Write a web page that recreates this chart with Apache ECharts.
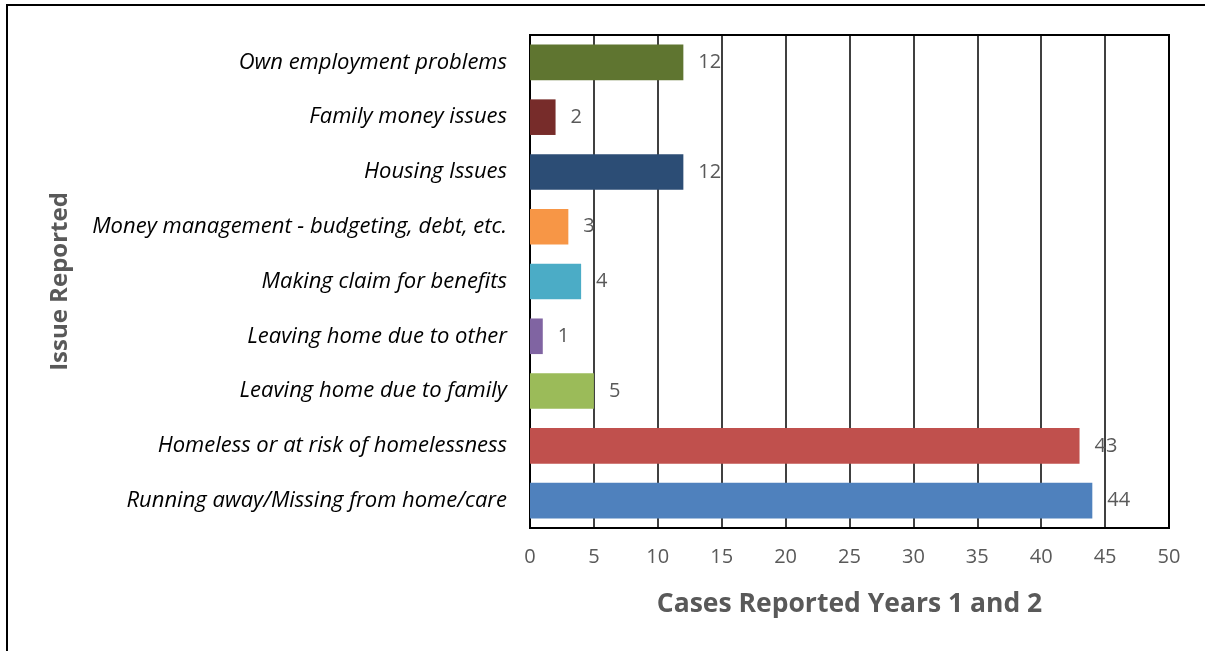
<!DOCTYPE html>
<html>
<head>
<meta charset="utf-8">
<script src="https://cdn.jsdelivr.net/npm/echarts@6/dist/echarts.min.js"></script>
<style>
  html, body { margin: 0; padding: 0; background: #fff; }
  #chart { width: 1205px; height: 651px; }
</style>
</head>
<body>
<div id="chart"></div>
<script>
// Issue categories, listed bottom to top
const categories = [
  'Running away/Missing from home/care',
  'Homeless or at risk of homelessness',
  'Leaving home due to family',
  'Leaving home due to other',
  'Making claim for benefits',
  'Money management - budgeting, debt, etc.',
  'Housing Issues',
  'Family money issues',
  'Own employment problems'
];
const cases = [44, 43, 5, 1, 4, 3, 12, 2, 12];
const barColors = [
  '#4F81BD', '#C0504D', '#9BBB59', '#8064A2', '#4BACC6',
  '#F79646', '#2C4D75', '#772C2A', '#5F7530'
];
const xTicks = [0, 5, 10, 15, 20, 25, 30, 35, 40, 45, 50];

const chart = echarts.init(document.getElementById('chart'), null, { renderer: 'canvas' });

const font = '"Open Sans", "Noto Sans", "Liberation Sans", sans-serif';

chart.setOption({
  animation: false,
  backgroundColor: '#ffffff',
  graphic: [{
    type: 'rect',
    shape: { x: 7, y: 5, width: 1210, height: 660 },
    style: { fill: 'none', stroke: '#000', lineWidth: 2 },
    silent: true
  }],
  grid: { left: 530, top: 35, width: 639, height: 493, show: true, borderColor: '#000', borderWidth: 2, backgroundColor: 'transparent' },
  xAxis: {
    type: 'value',
    min: xTicks[0],
    max: xTicks[xTicks.length - 1],
    interval: 5,
    name: 'Cases Reported Years 1 and 2',
    nameLocation: 'middle',
    nameGap: 63,
    nameTextStyle: { fontFamily: font, fontSize: 26.5, fontWeight: 'bold', color: '#595959' },
    axisLine: { show: true, lineStyle: { color: '#000', width: 2 } },
    axisTick: { show: false },
    axisLabel: { fontFamily: font, fontSize: 20, color: '#595959', margin: 19 },
    splitLine: { show: true, lineStyle: { color: '#000', width: 1.5 } }
  },
  yAxis: {
    type: 'category',
    data: categories,
    name: 'Issue Reported',
    nameLocation: 'middle',
    nameGap: 458,
    nameRotate: 90,
    nameTextStyle: { fontFamily: font, fontSize: 24, fontWeight: 'bold', color: '#595959' },
    axisLine: { show: true, lineStyle: { color: '#000', width: 2 } },
    axisTick: { show: false },
    axisLabel: { fontFamily: font, fontSize: 22, fontStyle: 'italic', color: '#000', margin: 23 }
  },
  series: [{
    type: 'bar',
    data: cases.map((v, i) => ({ value: v, itemStyle: { color: barColors[i] } })),
    barCategoryGap: '35%',
    label: { show: true, position: 'right', distance: 15, fontFamily: font, fontSize: 20, color: '#595959' }
  }]
});
</script>
</body>
</html>
